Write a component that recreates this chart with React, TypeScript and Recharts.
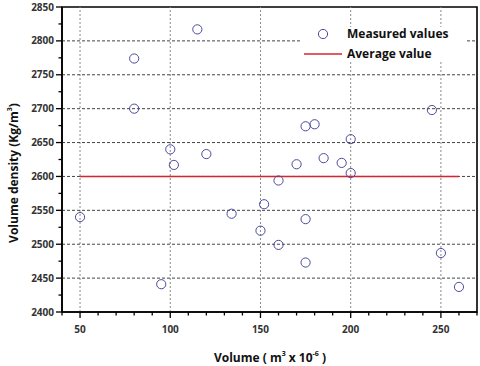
import React from 'react';
import { ScatterChart, Scatter, XAxis, YAxis, ReferenceLine, ReferenceArea, Legend } from 'recharts';

const volumes = [50, 80, 80, 95, 100, 102, 115, 120, 134, 150, 152, 160, 160, 170, 175, 175, 175, 180, 185, 195, 200, 200, 245, 250, 260];
const densities = [2540, 2774, 2700, 2441, 2640, 2617, 2817, 2633, 2545, 2520, 2559, 2594, 2499, 2618, 2674, 2537, 2473, 2677, 2627, 2620, 2655, 2605, 2698, 2487, 2437];
const averageX = [50, 260];
const averageValue = 2600;
const xTicks = [40, 50, 60, 70, 80, 90, 100, 110, 120, 130, 140, 150, 160, 170, 180, 190, 200, 210, 220, 230, 240, 250, 260, 270];
const yTicks = [2400, 2425, 2450, 2475, 2500, 2525, 2550, 2575, 2600, 2625, 2650, 2675, 2700, 2725, 2750, 2775, 2800, 2825, 2850];
const xGrid = [50, 100, 150, 200, 250];
const yGrid = [2450, 2500, 2550, 2600, 2650, 2700, 2750, 2800];

const measured = volumes.map((v, i) => ({ x: v, y: densities[i] }));
const average = averageX.map((v) => ({ x: v, y: averageValue }));

const FONT = '"Open Sans", "DejaVu Sans", sans-serif';
const MARKER = '#4b4b9e';
const RED = '#d9232e';

const XTick = (props: any) => {
  const { x, y, payload } = props;
  const major = payload.value % 50 === 0;
  return (
    <g>
      <line x1={x} x2={x} y1={y} y2={y + (major ? 6 : 3.5)} stroke="#000" strokeWidth={1.3} />
      {major && (
        <text x={x} y={y + 21} textAnchor="middle" fontFamily={FONT} fontWeight="bold" fontSize={10} fill="#333">
          {payload.value}
        </text>
      )}
    </g>
  );
};

const YTick = (props: any) => {
  const { x, y, payload } = props;
  const major = payload.value % 50 === 0;
  return (
    <g>
      <line x1={x} x2={x - (major ? 6 : 3.5)} y1={y} y2={y} stroke="#000" strokeWidth={1.3} />
      {major && (
        <text x={x - 8} y={y + 3.5} textAnchor="end" fontFamily={FONT} fontWeight="bold" fontSize={10} fill="#333">
          {payload.value}
        </text>
      )}
    </g>
  );
};

const Circle = (props: any) => {
  const { cx, cy } = props;
  return <circle cx={cx} cy={cy} r={4.6} fill="none" stroke={MARKER} strokeWidth={1} />;
};

const LegendBox = () => (
  <div style={{ width: 163, height: 35, background: '#fff', position: 'relative', fontFamily: FONT, fontWeight: 'bold', fontSize: 12, color: '#111' }}>
    <svg width={163} height={35} style={{ position: 'absolute', left: 0, top: 0 }}>
      <circle cx={21} cy={7} r={4.6} fill="none" stroke={MARKER} strokeWidth={1} />
      <line x1={2} x2={40} y1={27} y2={27} stroke={RED} strokeWidth={1.5} />
    </svg>
    <div style={{ position: 'absolute', left: 45, top: -2, whiteSpace: 'nowrap', lineHeight: '18px' }}>Measured values</div>
    <div style={{ position: 'absolute', left: 45, top: 18, whiteSpace: 'nowrap', lineHeight: '18px' }}>Average value</div>
  </div>
);

export default function App() {
  return (
    <div style={{ position: 'absolute', left: 0, top: 0, width: 480, height: 366, background: '#fff' }}>
      <ScatterChart width={480} height={366} margin={{ top: 7, right: 3, left: 0, bottom: 0 }}>
        <XAxis
          type="number"
          dataKey="x"
          domain={[40, 270]}
          ticks={xTicks}
          interval={0}
          tick={<XTick />}
          tickLine={false}
          tickSize={0}
          tickMargin={0}
          height={54}
          axisLine={{ stroke: '#000', strokeWidth: 1.6 }}
          allowDataOverflow
        />
        <YAxis
          type="number"
          dataKey="y"
          domain={[2400, 2850]}
          ticks={yTicks}
          interval={0}
          tick={<YTick />}
          tickLine={false}
          tickSize={0}
          tickMargin={0}
          width={62}
          axisLine={{ stroke: '#000', strokeWidth: 1.6 }}
          allowDataOverflow
        />
        {xGrid.map((g) => (
          <ReferenceLine key={'x' + g} x={g} stroke="#8a8a8a" strokeDasharray="2 2" strokeWidth={1} />
        ))}
        {yGrid.map((g) => (
          <ReferenceLine key={'y' + g} y={g} stroke="#444" strokeDasharray="3 2" strokeWidth={1} />
        ))}
        <ReferenceArea x1={40} x2={270} y1={2400} y2={2850} fill="none" stroke="#000" strokeWidth={1.6} />
        <Legend
          layout="vertical"
          align="center"
          verticalAlign="middle"
          content={<LegendBox />}
          wrapperStyle={{ position: 'absolute', left: 302, top: 27, width: 163, height: 35 }}
        />
        <Scatter
          name="Average value"
          data={average}
          line={{ stroke: RED, strokeWidth: 1.6 }}
          shape={() => <g />}
          isAnimationActive={false}
        />
        <Scatter name="Measured values" data={measured} shape={<Circle />} isAnimationActive={false} />
      </ScatterChart>
      <div
        style={{
          position: 'absolute',
          left: 270,
          top: 346,
          transform: 'translateX(-50%)',
          whiteSpace: 'nowrap',
          fontFamily: FONT,
          fontWeight: 'bold',
          fontSize: 12,
          color: '#111',
          lineHeight: '16px',
        }}
      >
        Volume ( m<sup style={{ fontSize: 7, verticalAlign: 6 }}>3</sup> x 10<sup style={{ fontSize: 7, verticalAlign: 6 }}>-6</sup> )
      </div>
      <div
        style={{
          position: 'absolute',
          left: 12,
          top: 173,
          transform: 'translate(-50%, -50%) rotate(-90deg)',
          whiteSpace: 'nowrap',
          fontFamily: FONT,
          fontWeight: 'bold',
          fontSize: 12,
          color: '#111',
          lineHeight: '16px',
        }}
      >
        Volume density (Kg/m<sup style={{ fontSize: 7, verticalAlign: 6 }}>3</sup>)
      </div>
    </div>
  );
}
